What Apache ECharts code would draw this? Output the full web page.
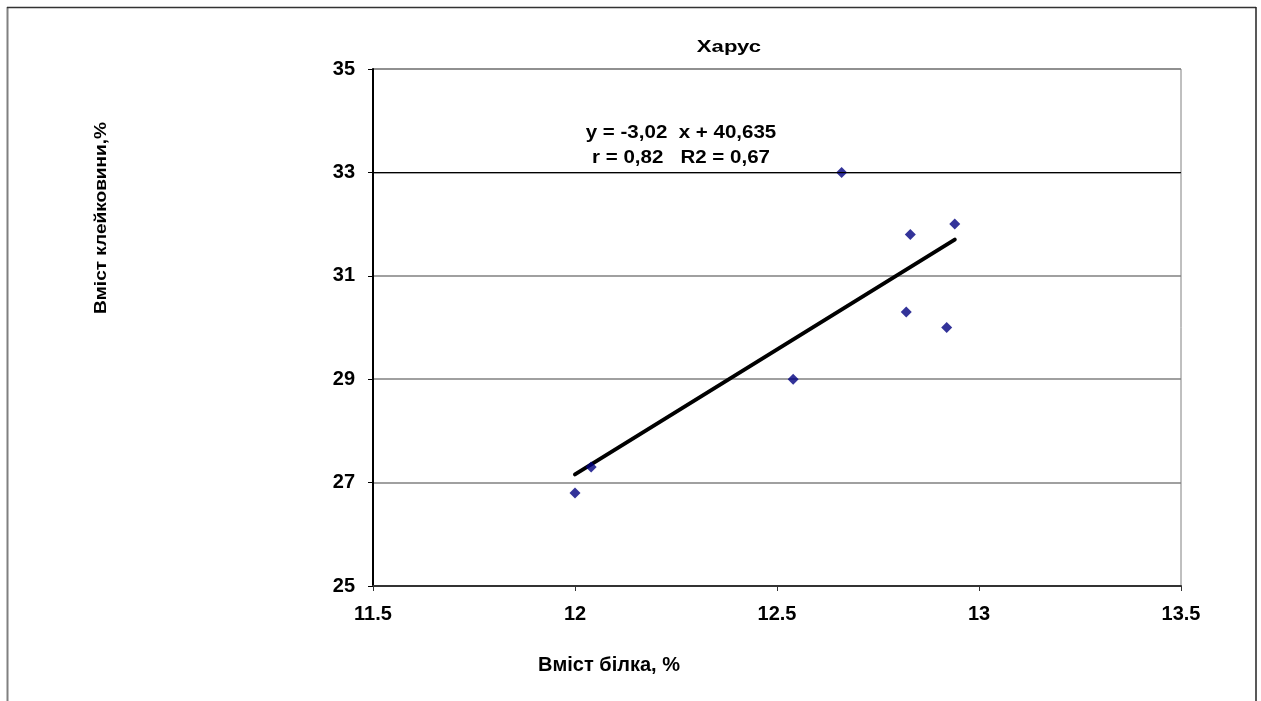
<!DOCTYPE html>
<html>
<head>
<meta charset="utf-8">
<script src="https://cdn.jsdelivr.net/npm/echarts@6/dist/echarts.min.js"></script>
<style>
html,body{margin:0;padding:0;background:#fff;}
#chart{width:1261px;height:701px;}
</style>
</head>
<body>
<div id="chart"></div>
<script>
// Data
const proteinX = [12.0, 12.04, 12.54, 12.66, 12.82, 12.83, 12.92, 12.94];
const glutenY  = [26.8, 27.3, 29.0, 33.0, 30.3, 31.8, 30.0, 32.0];
const trendX = [12.0, 12.94];
const trendY = [27.16, 31.70];
const xTicks = [11.5, 12, 12.5, 13, 13.5];
const yTicks = [25, 27, 29, 31, 33, 35];
const titleText = 'Харус';
const eqLine1 = 'y = -3,02  x + 40,635';
const eqLine2 = 'r = 0,82   R2 = 0,67';
const xName = 'Вміст білка, %';
const yName = 'Вміст клейковини,%';

const FONT = '"Liberation Sans", Arial, sans-serif';

const chart = echarts.init(document.getElementById('chart'));
chart.setOption({
  animation: false,
  backgroundColor: '#fff',
  grid: {left: 373, right: 80, top: 69, bottom: 115, show: true, borderColor: '#808080', borderWidth: 1},
  xAxis: {
    type: 'value', min: xTicks[0], max: xTicks[xTicks.length-1], interval: 0.5,
    axisLine: {onZero: false, lineStyle: {color: '#333', width: 2}},
    axisTick: {show: true, length: 5, lineStyle: {color: '#333'}},
    splitLine: {show: false},
    axisLabel: {margin: 18, color: '#000', fontFamily: FONT, fontWeight: 'bold', fontSize: 20,
      formatter: v => String(v)}
  },
  yAxis: {
    type: 'value', min: yTicks[0], max: yTicks[yTicks.length-1], interval: 2,
    axisLine: {onZero: false, lineStyle: {color: '#000', width: 2}},
    axisTick: {show: true, length: 5, inside: false, lineStyle: {color: '#000'}},
    splitLine: {show: true, lineStyle: {color: '#808080', width: 1.5}},
    axisLabel: {margin: 18, color: '#000', fontFamily: FONT, fontWeight: 'bold', fontSize: 20}
  },
  series: [
    {
      type: 'line',
      data: trendX.map((x, i) => [x, trendY[i]]),
      showSymbol: false, symbol: 'none',
      lineStyle: {color: '#000', width: 4, cap: 'round'},
      z: 3,
      markLine: {
        silent: true, symbol: 'none', label: {show: false},
        lineStyle: {color: '#000', width: 1, type: 'solid'},
        data: [{yAxis: 33}]
      }
    },
    {
      type: 'scatter',
      data: proteinX.map((x, i) => [x, glutenY[i]]),
      symbol: 'diamond', symbolSize: 11,
      itemStyle: {color: '#000080'},
      z: 4
    }
  ],
  graphic: [
    {type: 'line', shape: {x1: 7.5, y1: 7, x2: 7.5, y2: 701}, style: {stroke: '#808080', lineWidth: 2}},
    {type: 'line', shape: {x1: 7, y1: 7.5, x2: 1256, y2: 7.5}, style: {stroke: '#333', lineWidth: 1.5}},
    {type: 'line', shape: {x1: 1256, y1: 7, x2: 1256, y2: 701}, style: {stroke: '#222', lineWidth: 1.5}},
    {type: 'text', x: 729, y: 47, scaleX: 1.3, style: {text: titleText, font: 'bold 17px ' + FONT, fill: '#000', textAlign: 'center', textVerticalAlign: 'middle'}},
    {type: 'text', x: 681, y: 133, scaleX: 1.08, style: {text: eqLine1, font: 'bold 19px ' + FONT, fill: '#000', textAlign: 'center', textVerticalAlign: 'middle'}},
    {type: 'text', x: 681, y: 158, scaleX: 1.08, style: {text: eqLine2, font: 'bold 19px ' + FONT, fill: '#000', textAlign: 'center', textVerticalAlign: 'middle'}},
    {type: 'text', x: 609, y: 665, style: {text: xName, font: 'bold 20px ' + FONT, fill: '#000', textAlign: 'center', textVerticalAlign: 'middle'}},
    {type: 'text', x: 101, y: 218, rotation: Math.PI/2, scaleX: 1.12, style: {text: yName, font: 'bold 17px ' + FONT, fill: '#000', textAlign: 'center', textVerticalAlign: 'middle'}}
  ]
});
</script>
</body>
</html>
